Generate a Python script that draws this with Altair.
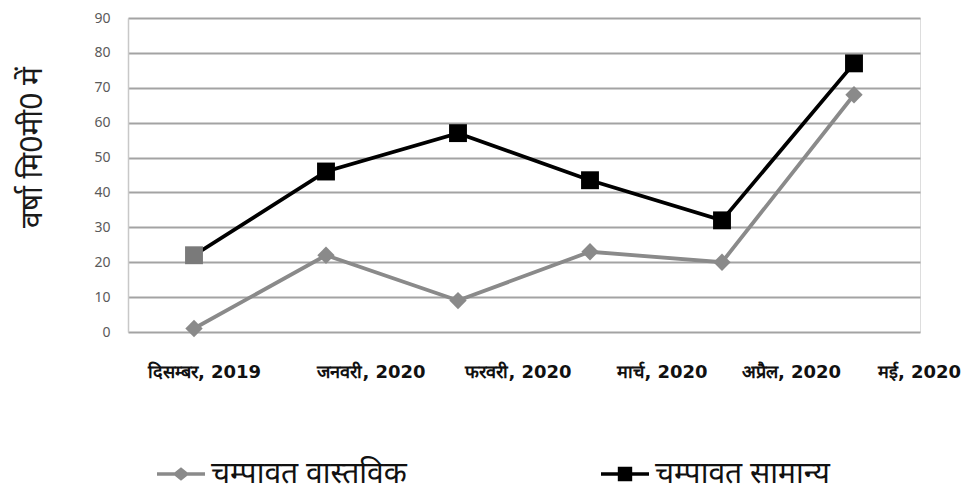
import altair as alt
import pandas as pd

months = ["दिसम्बर, 2019", "जनवरी, 2020", "फरवरी, 2020", "मार्च, 2020", "अप्रैल, 2020", "मई, 2020"]
actual = [1, 22, 9, 23, 20, 68]
normal = [22, 46, 57, 43.5, 32, 77]
series_names = ["चम्पावत वास्तविक", "चम्पावत सामान्य"]
series_colors = ["#8a8a8a", "#000000"]

rows = []
for m, a, n in zip(months, actual, normal):
    rows.append({"month": m, "series": series_names[0], "value": a})
    rows.append({"month": m, "series": series_names[1], "value": n})
df = pd.DataFrame(rows)

# legend symbols: a thick line segment with the marker in its middle (all filled)
diamond_sym = "M-1,-0.07H-0.26L0,-0.28L0.26,-0.07H1V0.07H0.26L0,0.28L-0.26,0.07H-1Z"
square_sym = "M-1,-0.07H-0.3V-0.3H0.3V-0.07H1V0.07H0.3V0.3H-0.3V0.07H-1Z"

label_shift = {
    "condition": [
        {"test": f"datum.value === '{months[0]}'", "value": 10},
        {"test": f"datum.value === '{months[1]}'", "value": 45},
        {"test": f"datum.value === '{months[2]}'", "value": 60},
        {"test": f"datum.value === '{months[3]}'", "value": 72},
        {"test": f"datum.value === '{months[4]}'", "value": 69},
    ],
    "value": 65,
}

x = alt.X("month:N", sort=months, title=None,
          scale=alt.Scale(paddingInner=0, paddingOuter=0.5),
          axis=alt.Axis(labelAngle=0, domain=False, ticks=False, labelColor="#111111",
                        labelFont="DejaVu Sans", labelFontSize=18, labelFontWeight="bold",
                        labelPadding=31, labelOffset=label_shift, labelLimit=300))
y = alt.Y("value:Q", title="वर्षा मि0मी0 में",
          scale=alt.Scale(domain=[0, 90], nice=False),
          axis=alt.Axis(values=list(range(0, 91, 10)), domain=True, domainColor="#c8c8c8",
                        domainWidth=1.5, ticks=False, labelColor="#5a5a5a", labelFontSize=14,
                        labelPadding=18, gridColor="#a3a3a3", gridWidth=2, titleFontSize=30,
                        titleFontWeight="normal", titleColor="#1a1a1a", titlePadding=46,
                        titleY=129))
color_scale = alt.Scale(domain=series_names, range=series_colors)
legend_def = alt.Legend(
    title=None, orient="none", direction="horizontal",
    legendX=29, legendY=432,
    labelFontSize=30, labelColor="#111111", symbolSize=2304,
    symbolOpacity=1, symbolStrokeWidth=0, columnPadding=194,
    labelOffset=6, labelLimit=400)
legend_color = alt.Color("series:N", sort=series_names, scale=color_scale, legend=legend_def)

base = alt.Chart(df)
lines = base.mark_line(strokeWidth=3.8).encode(x=x, y=y, color=legend_color)
legend_layer = base.mark_point(filled=True, opacity=0).encode(
    x=x, y=y, color=legend_color,
    shape=alt.Shape("series:N", sort=series_names,
                    scale=alt.Scale(domain=series_names, range=[diamond_sym, square_sym]),
                    legend=None))
pts_actual = base.transform_filter(f"datum.series === '{series_names[0]}'").mark_point(
    filled=True, shape="diamond", size=300, opacity=1, color=series_colors[0]).encode(x=x, y=y)
pts_normal = base.transform_filter(f"datum.series === '{series_names[1]}'").mark_point(
    filled=True, shape="square", size=320, opacity=1).encode(
    x=x, y=y,
    color=alt.condition(f"datum.month === '{months[0]}'", alt.value("#7a7a7a"),
                        alt.value(series_colors[1])))

chart = (lines + legend_layer + pts_actual + pts_normal).properties(
    width=792, height=314,
    autosize=alt.AutoSizeParams(type="none"),
    padding={"left": 120, "top": 10, "right": 49, "bottom": 167},
).configure_view(stroke=None).configure(font="Noto Sans")

chart.save("out.html", embed_options={"renderer": "svg", "actions": False})
